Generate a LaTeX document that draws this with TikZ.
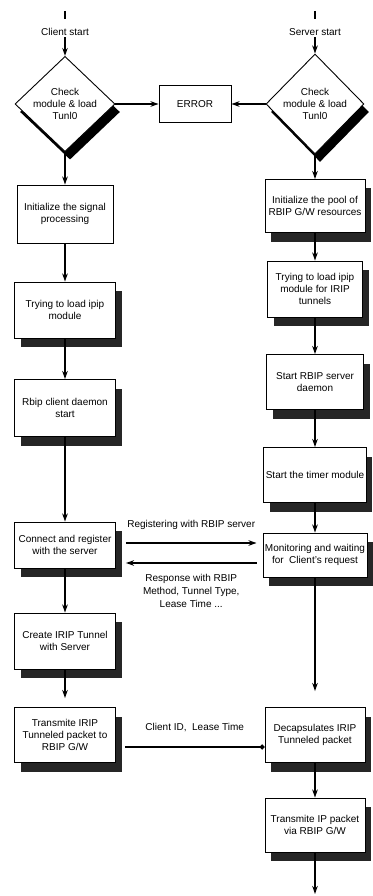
\documentclass[tikz,border=0pt]{standalone}
\usepackage{fontspec}
\setmainfont{Liberation Sans}
\usepackage{tikz}
\usetikzlibrary{shapes, arrows.meta, shadows, positioning}

\begin{document}
\begin{tikzpicture}[
        x=1pt, y=-1pt,
        ->, >={Stealth[length=8pt,width=5.5pt]},
        line width=1.4pt,
        font=\fontsize{10}{12}\selectfont,
        starttext/.style = {
            inner sep=1pt
        },
        plain/.style = {
            rectangle,
            draw,
            line width=0.9pt,
            fill=white,
            align=center,
            inner sep=2pt
        },
        task/.style = {
            plain,
            drop shadow={shadow xshift=6pt, shadow yshift=-9pt, fill=black!85, opacity=1}
        },
        check/.style = {
            diamond,
            draw,
            line width=0.9pt,
            fill=white,
            align=center,
            inner sep=0pt,
            drop shadow={shadow xshift=5pt, shadow yshift=-8pt, fill=black, opacity=1}
        }
    ]
        \useasboundingbox (0,0) rectangle (372,896);

        \node [starttext]  (cstart)  at (65,32)   {Client start};
        \node [check, minimum width=100pt, minimum height=94pt]  (cchk)  at (65,104)  {Check\\module \& load\\Tunl0};
        \node [plain, minimum width=96pt, minimum height=58pt]   (cinit) at (65,214)  {Initialize the signal\\processing};
        \node [task, minimum width=101pt, minimum height=56pt]   (cload) at (65,310)  {Trying to load ipip\\module};
        \node [task, minimum width=101pt, minimum height=57pt]   (cdmn)  at (65,408)  {Rbip client daemon\\start};
        \node [task, minimum width=101pt, minimum height=46pt]   (cconn) at (65,545)  {Connect and register\\with the server};
        \node [task, minimum width=101pt, minimum height=56pt]   (ctun)  at (65,641)  {Create IRIP Tunnel\\with Server};
        \node [task, minimum width=101pt, minimum height=55pt]   (ctx)   at (65,735)  {Transmite IRIP\\Tunneled packet to\\RBIP G/W};

        \node [plain, minimum width=72pt, minimum height=37pt]   (err)   at (195,104) {ERROR};

        \node [starttext]  (sstart)  at (315,32)  {Server start};
        \node [check, minimum width=98pt, minimum height=100pt]  (schk)  at (315,104) {Check\\module \& load\\Tunl0};
        \node [task, minimum width=100pt, minimum height=53pt]   (sinit) at (315,206) {Initialize the pool of\\RBIP G/W resources};
        \node [task, minimum width=95pt, minimum height=56pt]    (sload) at (315,289) {Trying to load ipip\\module for IRIP\\tunnels};
        \node [task, minimum width=97pt, minimum height=55pt]    (sdmn)  at (315,382) {Start RBIP server\\daemon};
        \node [task, minimum width=99pt, minimum height=55pt]    (stmr)  at (315,475) {Start the timer module};
        \node [task, minimum width=104pt, minimum height=44pt]   (smon)  at (315,555) {Monitoring and waiting\\for\ \ Client's request};
        \node [task, minimum width=100pt, minimum height=55pt]   (sdec)  at (315,735) {Decapsulates IRIP\\Tunneled packet};
        \node [task, minimum width=100pt, minimum height=54pt]   (stx)   at (315,825) {Transmite IP packet\\via RBIP G/W};

        \coordinate (ctick) at (65,11);
        \coordinate (stick) at (315,11);
        \coordinate (send)  at (315,894);
        \coordinate [above=9pt of ctx.north]   (ctxin);
        \coordinate [above=16pt of sdec.north] (sdecin);

        \draw [-] (ctick) -- ++(0,8);
        \draw [-] (stick) -- ++(0,8);

        \path
            (cstart)    edge    (cchk)
            (cchk)      edge    (cinit)
                        edge    (err)
            (cinit)     edge    (cload)
            (cload)     edge    (cdmn)
            (cdmn)      edge    (cconn)
            (cconn)     edge    (ctun)
            (ctun)      edge    (ctxin)
            (sstart)    edge    (schk)
            (schk)      edge    (sinit)
                        edge    (err)
            (sinit)     edge    (sload)
            (sload)     edge    (sdmn)
            (sdmn)      edge    (stmr)
            (stmr)      edge    (smon)
            (sdec)      edge    (stx)
            (stx)       edge    (send)
        ;
        \draw (smon.south) -- (sdecin);

        \draw ([xshift=10pt,yshift=2pt]cconn.east) -- node [above=9pt] {Registering with RBIP server} ([xshift=-6pt,yshift=2pt]cconn.east -| smon.west);
        \draw ([xshift=-6pt,yshift=-18pt]cconn.east -| smon.west) -- node [below=7pt, align=center, font=\fontsize{10}{13}\selectfont] {Response with RBIP\\Method, Tunnel Type,\\Lease Time ...} ([xshift=10pt,yshift=-18pt]cconn.east);
        \draw [-{Circle[length=5pt]}] ([xshift=9pt,yshift=-12pt]ctx.east) -- node [above=11pt] {Client ID,\ \ Lease Time} ([yshift=-12pt]ctx.east -| sdec.west);
    \end{tikzpicture}
\end{document}
